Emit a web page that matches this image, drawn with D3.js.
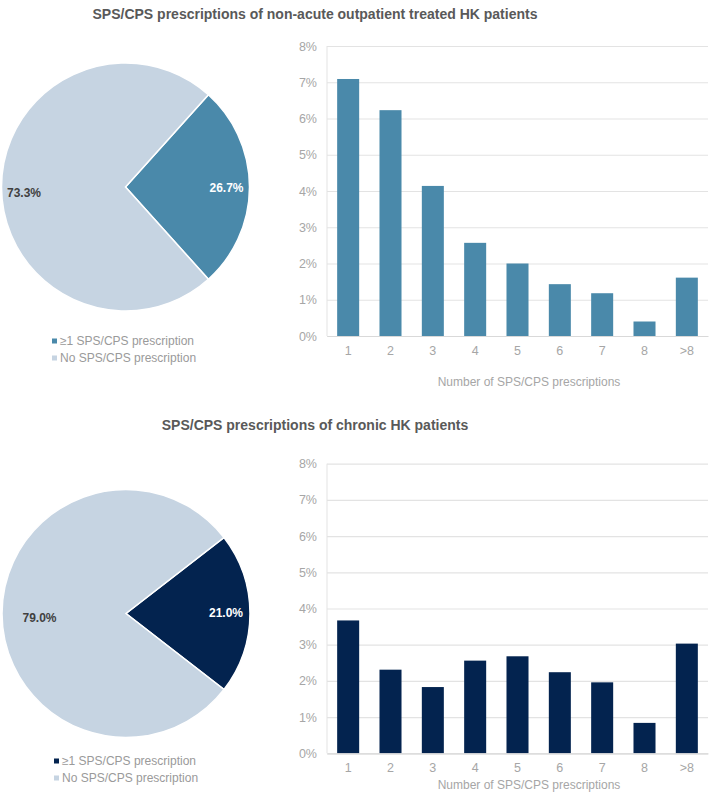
<!DOCTYPE html>
<html>
<head>
<meta charset="utf-8">
<script src="https://cdn.jsdelivr.net/npm/d3@7/dist/d3.min.js"></script>
<style>
  html, body { margin: 0; padding: 0; background: #fff; }
  svg { display: block; font-family: "Liberation Sans", Arial, sans-serif; }
</style>
</head>
<body>
<script>
// ---------- data ----------
const titles = [
  "SPS/CPS prescriptions of non-acute outpatient treated HK patients",
  "SPS/CPS prescriptions of chronic HK patients"
];
const categories = ["1", "2", "3", "4", "5", "6", "7", "8", ">8"];
const acuteValues = [7.09, 6.23, 4.14, 2.57, 2.00, 1.43, 1.18, 0.40, 1.61];
const chronicValues = [3.67, 2.31, 1.83, 2.56, 2.68, 2.24, 1.96, 0.84, 3.03];
const yTicks = [0, 1, 2, 3, 4, 5, 6, 7, 8];
const pieLabels = ["≥1 SPS/CPS prescription", "No SPS/CPS prescription"];
const acutePie = [26.7, 73.3];
const chronicPie = [21.0, 79.0];
const xAxisTitle = "Number of SPS/CPS prescriptions";

// ---------- drawing ----------
const W = 709, H = 792;
const svg = d3.select("body").append("svg").attr("width", W).attr("height", H);
svg.append("rect").attr("width", W).attr("height", H).attr("fill", "#fff");

const gridColor = "#e3e3e3";
const tickColor = "#a6a6a6";
const lightPie = "#c6d4e2";

function drawPanel(cfg) {
  const g = svg.append("g");
  // title
  g.append("text")
    .attr("x", 315).attr("y", cfg.titleY)
    .attr("text-anchor", "middle")
    .attr("font-size", 14).attr("font-weight", "bold")
    .attr("fill", "#595959")
    .text(cfg.title);

  // ---- bar chart ----
  const x = d3.scaleBand().domain(categories).range([327, 708])
    .paddingInner(0.48).paddingOuter(0.24);
  const y = d3.scaleLinear().domain([0, 8]).range([cfg.y0, cfg.y8]);

  const yAxis = d3.axisLeft(y).tickValues(yTicks)
    .tickFormat(d => d + "%")
    .tickSize(-(708 - 327)).tickPadding(10);
  const ya = g.append("g").attr("transform", "translate(327,0)").call(yAxis);
  ya.select(".domain").attr("stroke", gridColor).attr("d", `M0,${cfg.y8}V${cfg.y0}`);
  ya.selectAll(".tick line").attr("stroke", gridColor).attr("stroke-width", 1.2);
  ya.selectAll(".tick text").attr("fill", tickColor).attr("font-size", 12.5)
    .attr("font-family", "Liberation Sans, Arial, sans-serif");

  g.selectAll("rect.bar").data(cfg.values).enter().append("rect")
    .attr("class", "bar")
    .attr("x", (d, i) => x(categories[i]))
    .attr("width", x.bandwidth())
    .attr("y", d => y(d))
    .attr("height", d => y(0) - y(d))
    .attr("fill", cfg.color);

  const xAxis = d3.axisBottom(x).tickSize(0).tickPadding(10);
  const xa = g.append("g").attr("transform", `translate(0,${cfg.y0})`).call(xAxis);
  xa.select(".domain").attr("stroke", "#d9d9d9").attr("stroke-width", 1.2);
  xa.selectAll(".tick text").attr("fill", tickColor).attr("font-size", 12.5)
    .attr("font-family", "Liberation Sans, Arial, sans-serif");

  g.append("text")
    .attr("x", 529).attr("y", cfg.xTitleY)
    .attr("text-anchor", "middle")
    .attr("font-size", 12).attr("fill", tickColor)
    .text(xAxisTitle);

  // ---- pie ----
  const share = cfg.pie[0] / d3.sum(cfg.pie);
  const start = Math.PI / 2 - share * Math.PI;
  const pie = d3.pie().sort(null).value(d => d)
    .startAngle(start).endAngle(start + 2 * Math.PI);
  const arcs = pie(cfg.pie);
  const r = 124;
  const arc = d3.arc().innerRadius(0).outerRadius(r);
  const pg = g.append("g").attr("transform", `translate(${cfg.cx},${cfg.cy})`);
  pg.selectAll("path").data(arcs).enter().append("path")
    .attr("d", arc)
    .attr("fill", (d, i) => i === 0 ? cfg.color : lightPie)
    .attr("stroke", "#fff").attr("stroke-width", 1.5);

  pg.selectAll("text").data(arcs).enter().append("text")
    .attr("transform", (d, i) => {
      const a = (d.startAngle + d.endAngle) / 2;
      const lr = cfg.labelR[i];
      return `translate(${Math.sin(a) * lr},${-Math.cos(a) * lr + cfg.labelDy[i]})`;
    })
    .attr("text-anchor", "middle").attr("dy", "0.35em")
    .attr("font-size", 12).attr("font-weight", "bold")
    .attr("fill", (d, i) => i === 0 ? "#ffffff" : "#404040")
    .text(d => d.data.toFixed(1) + "%");

  // legend
  const lg = g.append("g");
  pieLabels.forEach((lab, i) => {
    const ly = cfg.legendY + i * 17;
    lg.append("rect").attr("x", cfg.legendX - 3).attr("y", ly - 2.5)
      .attr("width", 5).attr("height", 5)
      .attr("fill", i === 0 ? cfg.color : lightPie);
    lg.append("text").attr("x", cfg.legendX + 5).attr("y", ly)
      .attr("dy", "0.35em").attr("font-size", 12).attr("fill", "#9a9a9a")
      .text(lab);
  });
}

drawPanel({
  title: titles[0], titleY: 19,
  values: acuteValues, color: "#4a89aa",
  y0: 336, y8: 46, xTitleY: 386,
  pie: acutePie, cx: 125.5, cy: 187,
  labelR: [101, 101.5], labelDy: [1, 6],
  legendX: 55, legendY: 341
});

drawPanel({
  title: titles[1], titleY: 430,
  values: chronicValues, color: "#03234f",
  y0: 753.3, y8: 463.7, xTitleY: 789,
  pie: chronicPie, cx: 126, cy: 613.5,
  labelR: [100, 86.5], labelDy: [-1, 4],
  legendX: 57, legendY: 761
});
</script>
</body>
</html>
